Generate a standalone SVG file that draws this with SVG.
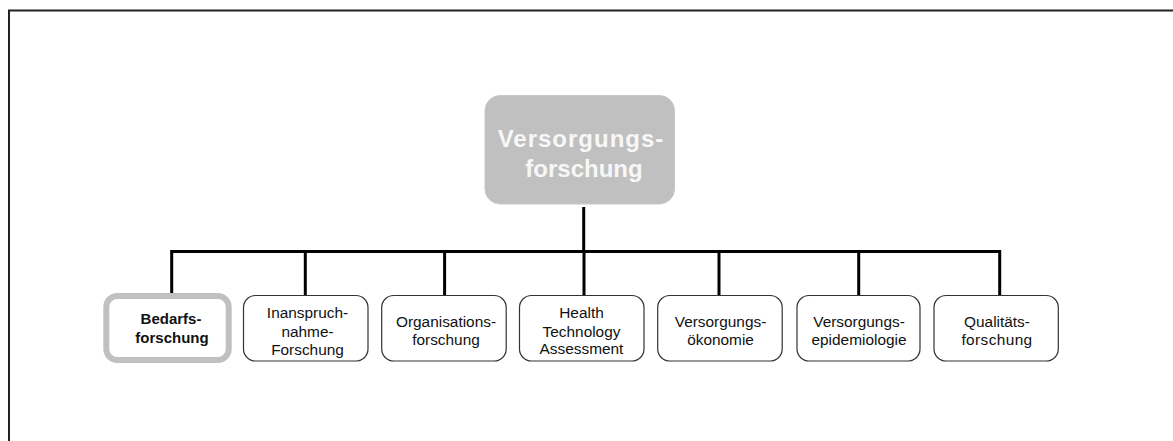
<svg xmlns="http://www.w3.org/2000/svg" width="1173" height="441" viewBox="0 0 1173 441">
<style>
  .box { fill: #ffffff; stroke: #333333; stroke-width: 1.2; }
  .lbl { font-family: "Liberation Sans", Arial, sans-serif; font-size: 15.4px; fill: #111111; text-anchor: middle; }
  .bold { font-weight: bold; font-size: 15px; }
  .conn { fill: none; stroke: #000000; stroke-width: 3; }
  .top { font-family: "Liberation Sans", Arial, sans-serif; font-size: 24px; font-weight: bold; fill: #f7f7f7; text-anchor: middle; }
</style>
<rect width="1173" height="441" fill="#ffffff"/>
<path d="M9,441 V10.5 H1173" fill="none" stroke="#222222" stroke-width="2"/>
<g id="connectors">
  <path class="conn" d="M583.7,207 V251.5"/>
  <path class="conn" d="M171.7,295 V251.5 H999.7 V295"/>
  <path class="conn" d="M305.3,251.5 V295"/>
  <path class="conn" d="M444.6,251.5 V295"/>
  <path class="conn" d="M584,251.5 V295"/>
  <path class="conn" d="M719,251.5 V295"/>
  <path class="conn" d="M858.7,251.5 V295"/>
</g>
<g id="root">
  <rect x="485" y="95.5" width="189.5" height="108.5" rx="15" fill="#c0c0c0" stroke="#c8c8c8" stroke-width="1"/>
  <text class="top" x="581" y="146.5" letter-spacing="1">Versorgungs-</text>
  <text class="top" x="584" y="176.5">forschung</text>
</g>
<g id="bedarfsforschung">
  <rect x="106.3" y="296" width="122.4" height="64" rx="11" fill="#ffffff" stroke="#c0c0c0" stroke-width="6"/>
  <text class="lbl bold" x="171" y="323.5">Bedarfs-</text>
  <text class="lbl bold" x="172" y="343.3">forschung</text>
</g>
<g id="inanspruchnahme">
  <rect class="box" x="243.5" y="295.5" width="124.5" height="65.5" rx="12"/>
  <text class="lbl" x="307.5" y="317.5">Inanspruch-</text>
  <text class="lbl" x="307.5" y="336.5">nahme-</text>
  <text class="lbl" x="307.5" y="354.5">Forschung</text>
</g>
<g id="organisationsforschung">
  <rect class="box" x="381.7" y="295.5" width="124.5" height="65.5" rx="12"/>
  <text class="lbl" x="446" y="326.7">Organisations-</text>
  <text class="lbl" x="446" y="345">forschung</text>
</g>
<g id="hta">
  <rect class="box" x="519.5" y="295.5" width="124.5" height="65.5" rx="12"/>
  <text class="lbl" x="581.5" y="318.3">Health</text>
  <text class="lbl" x="581.5" y="336.7">Technology</text>
  <text class="lbl" x="581.5" y="354.3">Assessment</text>
</g>
<g id="versorgungsoekonomie">
  <rect class="box" x="657.7" y="295.5" width="124.5" height="65.5" rx="12"/>
  <text class="lbl" x="720.5" y="326.7">Versorgungs-</text>
  <text class="lbl" x="720.5" y="345">ökonomie</text>
</g>
<g id="versorgungsepidemiologie">
  <rect class="box" x="797" y="295.5" width="123" height="65.5" rx="12"/>
  <text class="lbl" x="859" y="326.7">Versorgungs-</text>
  <text class="lbl" x="859" y="345">epidemiologie</text>
</g>
<g id="qualitaetsforschung">
  <rect class="box" x="934" y="295.5" width="124.3" height="65.5" rx="12"/>
  <text class="lbl" x="997" y="326.7">Qualitäts-</text>
  <text class="lbl" x="997" y="344.5" letter-spacing="0.4">forschung</text>
</g>
</svg>
